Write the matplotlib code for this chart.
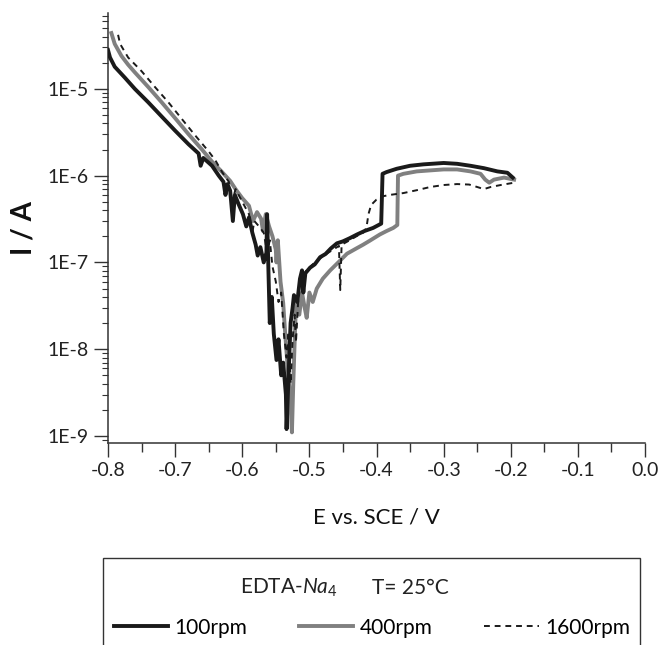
import matplotlib
matplotlib.use('Agg')
import numpy as np
import matplotlib.pyplot as plt
from matplotlib.patches import Rectangle
from matplotlib.ticker import FixedLocator, LogLocator, FuncFormatter, MultipleLocator

plt.rcParams['font.family'] = ['Lato', 'DejaVu Sans']
plt.rcParams['mathtext.fontset'] = 'custom'
plt.rcParams['mathtext.rm'] = 'Lato'
plt.rcParams['mathtext.it'] = 'Lato:italic'

# 100 rpm
E_100 = [-0.800, -0.797, -0.790, -0.775, -0.760, -0.740, -0.720, -0.700, -0.680, -0.665,
         -0.662, -0.658, -0.645, -0.635, -0.628, -0.625, -0.622, -0.618, -0.614, -0.611,
         -0.605, -0.599, -0.594, -0.590, -0.585, -0.580, -0.577, -0.573, -0.568, -0.564,
         -0.563, -0.561, -0.559, -0.556, -0.553, -0.549, -0.546, -0.542, -0.539, -0.535,
         -0.534, -0.531, -0.528, -0.525, -0.523, -0.518, -0.514, -0.511, -0.509, -0.506,
         -0.499, -0.492, -0.484, -0.476, -0.468, -0.459, -0.450, -0.440, -0.429, -0.418,
         -0.405, -0.393, -0.391, -0.385, -0.370, -0.350, -0.330, -0.300, -0.280, -0.260,
         -0.240, -0.220, -0.205, -0.197]
I_100 = [2.8e-5, 2.3e-5, 1.8e-5, 1.35e-5, 1.0e-5, 7.0e-6, 4.8e-6, 3.3e-6, 2.3e-6, 1.8e-6,
         1.3e-6, 1.6e-6, 1.3e-6, 1.0e-6, 8.5e-7, 6.0e-7, 8.0e-7, 6.7e-7, 3.0e-7, 6.0e-7,
         4.6e-7, 3.6e-7, 2.6e-7, 3.3e-7, 2.2e-7, 1.6e-7, 1.2e-7, 1.5e-7, 1.0e-7, 1.3e-7,
         3.6e-7, 8.0e-8, 2.0e-8, 4.0e-8, 1.5e-8, 7.5e-9, 1.3e-8, 5.0e-9, 7.0e-9, 3.0e-9,
         1.2e-9, 5.0e-9, 2.0e-8, 3.0e-8, 4.2e-8, 3.5e-8, 6.5e-8, 8.1e-8, 4.5e-8, 7.5e-8,
         8.7e-8, 9.5e-8, 1.15e-7, 1.25e-7, 1.45e-7, 1.66e-7, 1.75e-7, 1.9e-7, 2.1e-7, 2.3e-7,
         2.5e-7, 2.8e-7, 1.05e-6, 1.1e-6, 1.2e-6, 1.3e-6, 1.35e-6, 1.4e-6, 1.37e-6, 1.3e-6,
         1.22e-6, 1.12e-6, 1.08e-6, 9.5e-7]

# 400 rpm
E_400 = [-0.795, -0.790, -0.780, -0.770, -0.760, -0.740, -0.720, -0.700, -0.680, -0.660,
         -0.645, -0.630, -0.618, -0.610, -0.600, -0.590, -0.584, -0.578, -0.572, -0.569,
         -0.565, -0.560, -0.555, -0.550, -0.549, -0.547, -0.543, -0.539, -0.536, -0.532,
         -0.529, -0.526, -0.524, -0.521, -0.519, -0.515, -0.511, -0.507, -0.504, -0.500,
         -0.495, -0.489, -0.480, -0.469, -0.457, -0.444, -0.430, -0.420, -0.410, -0.395,
         -0.385, -0.375, -0.369, -0.368, -0.360, -0.340, -0.320, -0.300, -0.280, -0.260,
         -0.245, -0.238, -0.232, -0.225, -0.210, -0.195]
I_400 = [4.4e-5, 3.3e-5, 2.4e-5, 1.9e-5, 1.55e-5, 1.05e-5, 7.0e-6, 4.6e-6, 3.0e-6, 2.0e-6,
         1.45e-6, 1.1e-6, 8.7e-7, 7.0e-7, 5.5e-7, 4.5e-7, 3.0e-7, 3.8e-7, 3.2e-7, 2.3e-7,
         3.6e-7, 2.6e-7, 2.0e-7, 1.4e-7, 1.0e-7, 1.8e-7, 6.0e-8, 3.4e-8, 1.5e-8, 5.7e-9,
         3.0e-9, 1.1e-9, 4.0e-9, 2.0e-8, 4.0e-8, 2.5e-8, 4.5e-8, 3.0e-8, 2.3e-8, 4.5e-8,
         3.5e-8, 5.0e-8, 6.5e-8, 8.1e-8, 1.0e-7, 1.26e-7, 1.45e-7, 1.6e-7, 1.78e-7, 2.1e-7,
         2.3e-7, 2.5e-7, 2.7e-7, 1.0e-6, 1.05e-6, 1.12e-6, 1.15e-6, 1.18e-6, 1.18e-6, 1.12e-6,
         1.05e-6, 9.0e-7, 8.3e-7, 9.0e-7, 9.5e-7, 9.0e-7]

# 1600 rpm
E_1600 = [-0.785, -0.782, -0.770, -0.750, -0.730, -0.710, -0.690, -0.670, -0.650, -0.640,
          -0.630, -0.620, -0.615, -0.610, -0.600, -0.590, -0.585, -0.582, -0.575, -0.568,
          -0.563, -0.559, -0.555, -0.550, -0.546, -0.542, -0.538, -0.534, -0.531, -0.528,
          -0.525, -0.522, -0.520, -0.516, -0.512, -0.505, -0.495, -0.485, -0.475, -0.465,
          -0.456, -0.454, -0.452, -0.440, -0.430, -0.420, -0.415, -0.412, -0.408, -0.400,
          -0.390, -0.380, -0.360, -0.340, -0.320, -0.300, -0.280, -0.262, -0.250, -0.240,
          -0.230, -0.215, -0.195]
I_1600 = [4.2e-5, 3.3e-5, 2.3e-5, 1.6e-5, 1.05e-5, 7.0e-6, 4.5e-6, 2.9e-6, 1.9e-6, 1.5e-6,
          1.1e-6, 8.5e-7, 5.0e-7, 7.0e-7, 5.0e-7, 3.6e-7, 2.2e-7, 3.0e-7, 2.6e-7, 2.2e-7,
          1.3e-7, 1.8e-7, 9.0e-8, 6.0e-8, 3.5e-8, 4.5e-8, 1.5e-8, 8.0e-9, 1.6e-8, 4.0e-9,
          1.3e-8, 2.5e-8, 1.2e-8, 4.5e-8, 6.5e-8, 8.0e-8, 9.5e-8, 1.1e-7, 1.25e-7, 1.4e-7,
          1.55e-7, 4.8e-8, 1.6e-7, 1.8e-7, 2.0e-7, 2.2e-7, 2.5e-7, 3.6e-7, 4.6e-7, 5.3e-7,
          5.8e-7, 6.0e-7, 6.3e-7, 6.8e-7, 7.4e-7, 7.8e-7, 8.0e-7, 7.9e-7, 7.4e-7, 7.0e-7,
          7.4e-7, 7.8e-7, 8.3e-7]

y_ticks = [1e-9, 1e-8, 1e-7, 1e-6, 1e-5]

fig = plt.figure(figsize=(6.61, 6.45), dpi=100)
ax = fig.add_axes([0.1634, 0.3132, 0.8124, 0.6667])

ax.plot(E_400, I_400, color='#808080', lw=2.8, label='400rpm', zorder=2)
ax.plot(E_100, I_100, color='#1a1a1a', lw=2.8, label='100rpm', zorder=3)
ax.plot(E_1600, I_1600, color='#1a1a1a', lw=1.4, dashes=(3, 2.5), label='1600rpm', zorder=4)

ax.set_yscale('log')
ax.set_xlim(-0.8, 0.0)
ax.set_ylim(8.3e-10, 7.5e-5)

ax.xaxis.set_major_locator(MultipleLocator(0.1))
ax.xaxis.set_minor_locator(MultipleLocator(0.05))
ax.xaxis.set_major_formatter(FuncFormatter(lambda v, p: f'{v:.1f}'.replace('-0.0', '0.0')))
ax.yaxis.set_major_locator(FixedLocator(y_ticks))
ax.yaxis.set_minor_locator(LogLocator(base=10, subs=np.arange(2, 10)))
ax.yaxis.set_major_formatter(FuncFormatter(lambda v, p: f'1E{int(round(np.log10(v)))}'))

for s in ['top', 'right']:
    ax.spines[s].set_visible(False)
for s in ['left', 'bottom']:
    ax.spines[s].set_linewidth(1.1)
    ax.spines[s].set_color('#333333')

ax.tick_params(axis='both', which='major', direction='out', width=1.0, color='#333333',
               labelsize=14, labelcolor='#222222')
ax.tick_params(axis='x', which='major', length=10, pad=4)
ax.tick_params(axis='x', which='minor', length=6.5, width=1.0, color='#333333')
ax.tick_params(axis='y', which='major', length=10, pad=4)
ax.tick_params(axis='y', which='minor', length=4, width=0.8, color='#333333')

ax.set_xlabel('E vs. SCE / V', fontsize=16, labelpad=20, color='#111111')
ax.set_ylabel('I / A', fontsize=20, fontweight='bold', labelpad=8, color='#111111')

# legend box below the axes
fig.add_artist(Rectangle((0.156, -0.02), 0.812, 0.155, transform=fig.transFigure,
                         fill=False, edgecolor='#333333', lw=1.0, clip_on=False))
fig.text(0.363, 0.0884, r'EDTA-$Na_4$', fontsize=15, va='center', color='#222222')
fig.text(0.563, 0.0884, 'T= 25°C', fontsize=15, va='center', color='#222222')

h, l = ax.get_legend_handles_labels()
order = [1, 0, 2]
fig.legend([h[i] for i in order], [l[i] for i in order], loc='center left',
           bbox_to_anchor=(0.172, 0.027), ncol=3, frameon=False, fontsize=15,
           handlelength=2.6, handletextpad=0.3, columnspacing=2.5,
           borderpad=0, borderaxespad=0)

fig.savefig('out.png', dpi=100)
